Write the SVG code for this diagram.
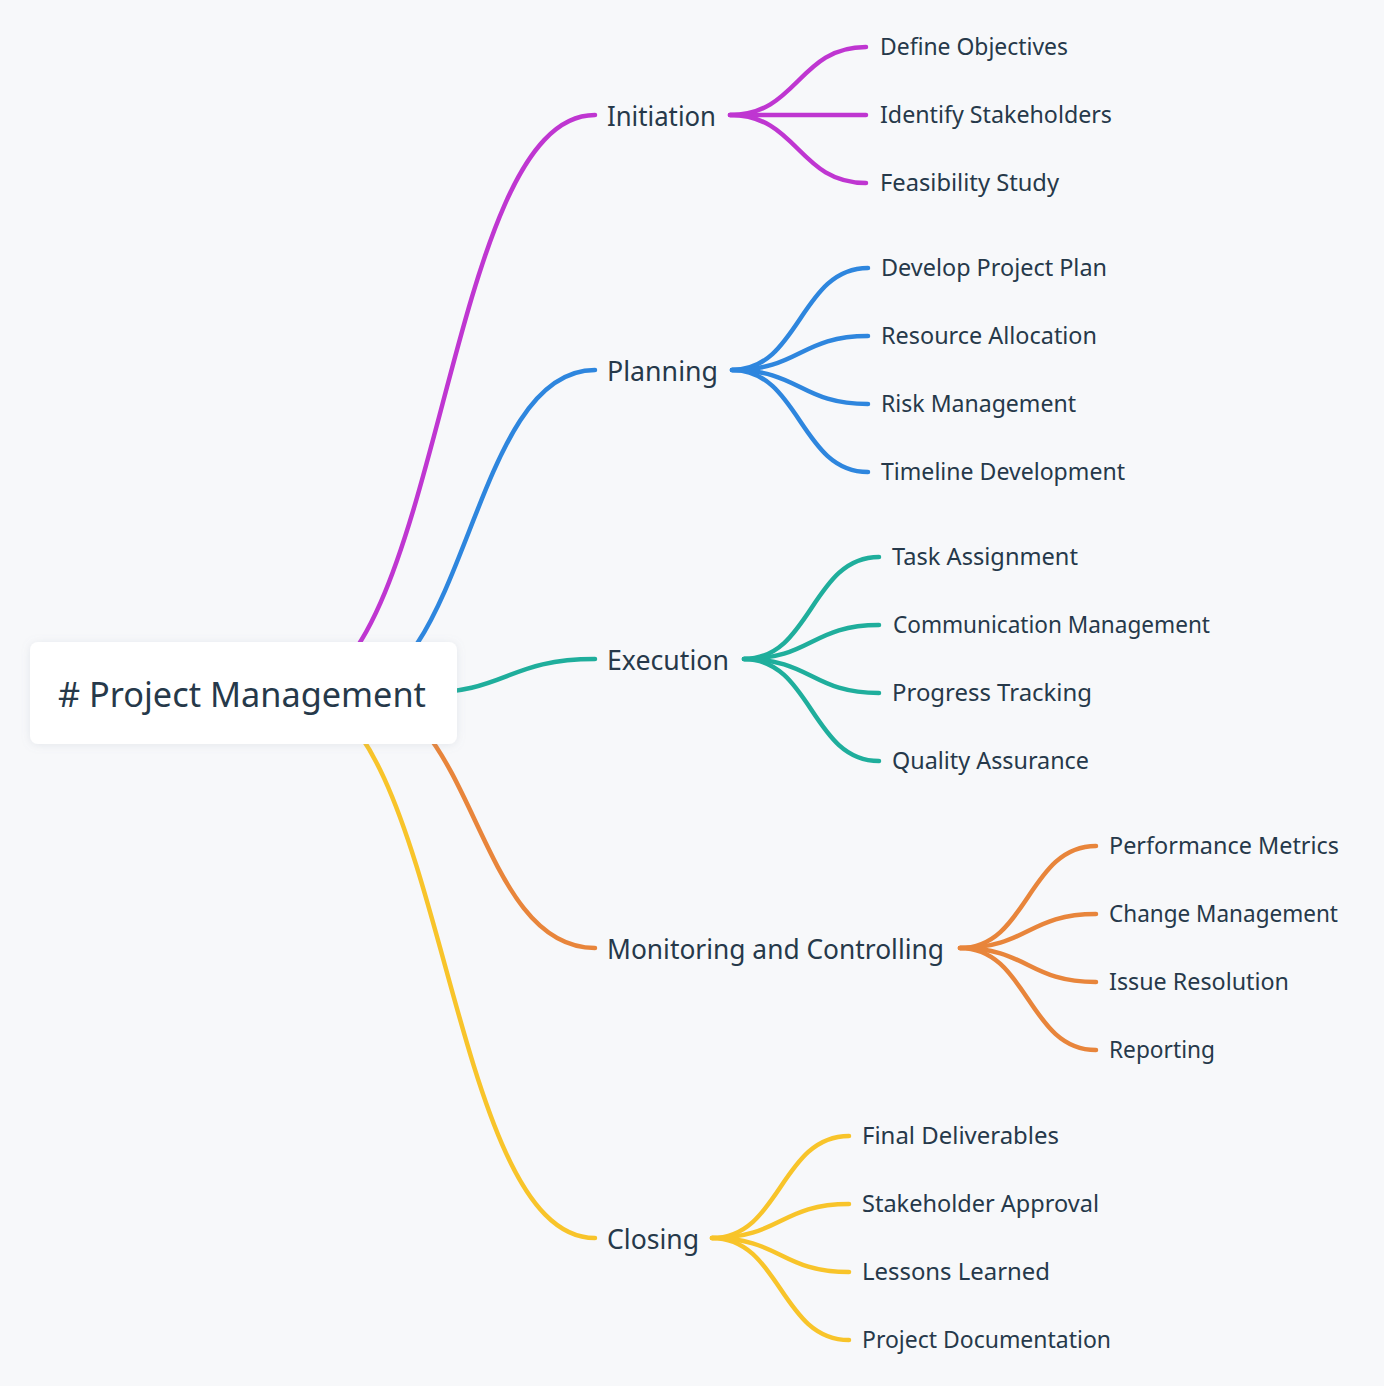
<svg xmlns="http://www.w3.org/2000/svg" width="1384" height="1386" viewBox="0 0 1384 1386">
<defs>
<filter id="sh" x="-10%" y="-30%" width="120%" height="160%">
<feDropShadow dx="0" dy="1" stdDeviation="4" flood-color="#8a97a8" flood-opacity="0.18"/>
</filter>
</defs>
<style>
.l{fill:none;stroke-width:4.5;stroke-linecap:round}
.c1{stroke:#bf36d1}.c2{stroke:#2e86de}.c3{stroke:#1fae9c}.c4{stroke:#e8853b}.c5{stroke:#f8c42a}
text{font-family:"Noto Sans","Open Sans","DejaVu Sans",sans-serif;fill:#26394a}
.r{font-size:34px}.b{font-size:28px}.f{font-size:23px}
</style>
<rect width="1384" height="1386" fill="#f7f8fa"/>
<g id="connectors">
<path class="l c1" d="M290 693C442.5 693 442.5 115 595 115"/>
<path class="l c2" d="M343 693C469 693 469 370 595 370"/>
<path class="l c3" d="M420 693C507 693 507 659 595 659"/>
<path class="l c4" d="M355 693C475 693 475 948 595 948"/>
<path class="l c5" d="M295 693C445 693 445 1238 595 1238"/>
<path class="l c1" d="M730 115C798 115 798 47 866 47"/>
<path class="l c1" d="M730 115L866 115"/>
<path class="l c1" d="M730 115C798 115 798 183 866 183"/>
<path class="l c2" d="M732 370C800 370 800 268 868 268"/>
<path class="l c2" d="M732 370C800 370 800 336 868 336"/>
<path class="l c2" d="M732 370C800 370 800 404 868 404"/>
<path class="l c2" d="M732 370C800 370 800 472 868 472"/>
<path class="l c3" d="M744 659C811.5 659 811.5 557 879 557"/>
<path class="l c3" d="M744 659C811.5 659 811.5 625 879 625"/>
<path class="l c3" d="M744 659C811.5 659 811.5 693 879 693"/>
<path class="l c3" d="M744 659C811.5 659 811.5 761 879 761"/>
<path class="l c4" d="M960 948C1028 948 1028 846 1096 846"/>
<path class="l c4" d="M960 948C1028 948 1028 914 1096 914"/>
<path class="l c4" d="M960 948C1028 948 1028 982 1096 982"/>
<path class="l c4" d="M960 948C1028 948 1028 1050 1096 1050"/>
<path class="l c5" d="M712 1238C780.5 1238 780.5 1136 849 1136"/>
<path class="l c5" d="M712 1238C780.5 1238 780.5 1204 849 1204"/>
<path class="l c5" d="M712 1238C780.5 1238 780.5 1272 849 1272"/>
<path class="l c5" d="M712 1238C780.5 1238 780.5 1340 849 1340"/>
</g>
<g id="node-root">
<rect x="30" y="642" width="427" height="102" rx="8" fill="#ffffff" filter="url(#sh)"/>
<text class="r" x="58" y="707" textLength="368" lengthAdjust="spacingAndGlyphs"># Project Management</text>
</g>
<g id="node-initiation"><text class="b" x="607" y="125.5" textLength="109" lengthAdjust="spacingAndGlyphs">Initiation</text></g>
<g id="node-planning"><text class="b" x="607" y="380.5" textLength="111" lengthAdjust="spacingAndGlyphs">Planning</text></g>
<g id="node-execution"><text class="b" x="607" y="669.5" textLength="122" lengthAdjust="spacingAndGlyphs">Execution</text></g>
<g id="node-monitoring"><text class="b" x="607" y="958.5" textLength="337" lengthAdjust="spacingAndGlyphs">Monitoring and Controlling</text></g>
<g id="node-closing"><text class="b" x="607" y="1248.5" textLength="92" lengthAdjust="spacingAndGlyphs">Closing</text></g>
<g id="node-define-objectives"><text class="f" x="880" y="55.3" textLength="188" lengthAdjust="spacingAndGlyphs">Define Objectives</text></g>
<g id="node-identify-stakeholders"><text class="f" x="880" y="123.3" textLength="232" lengthAdjust="spacingAndGlyphs">Identify Stakeholders</text></g>
<g id="node-feasibility-study"><text class="f" x="880" y="191.3" textLength="179" lengthAdjust="spacingAndGlyphs">Feasibility Study</text></g>
<g id="node-develop-project-plan"><text class="f" x="881" y="276.3" textLength="226" lengthAdjust="spacingAndGlyphs">Develop Project Plan</text></g>
<g id="node-resource-allocation"><text class="f" x="881" y="344.3" textLength="216" lengthAdjust="spacingAndGlyphs">Resource Allocation</text></g>
<g id="node-risk-management"><text class="f" x="881" y="412.3" textLength="195" lengthAdjust="spacingAndGlyphs">Risk Management</text></g>
<g id="node-timeline-development"><text class="f" x="881" y="480.3" textLength="244" lengthAdjust="spacingAndGlyphs">Timeline Development</text></g>
<g id="node-task-assignment"><text class="f" x="892" y="565.3" textLength="186" lengthAdjust="spacingAndGlyphs">Task Assignment</text></g>
<g id="node-communication-management"><text class="f" x="893" y="633.3" textLength="317" lengthAdjust="spacingAndGlyphs">Communication Management</text></g>
<g id="node-progress-tracking"><text class="f" x="892" y="701.3" textLength="200" lengthAdjust="spacingAndGlyphs">Progress Tracking</text></g>
<g id="node-quality-assurance"><text class="f" x="892" y="769.3" textLength="197" lengthAdjust="spacingAndGlyphs">Quality Assurance</text></g>
<g id="node-performance-metrics"><text class="f" x="1109" y="854.3" textLength="230" lengthAdjust="spacingAndGlyphs">Performance Metrics</text></g>
<g id="node-change-management"><text class="f" x="1109" y="922.3" textLength="229" lengthAdjust="spacingAndGlyphs">Change Management</text></g>
<g id="node-issue-resolution"><text class="f" x="1109" y="990.3" textLength="180" lengthAdjust="spacingAndGlyphs">Issue Resolution</text></g>
<g id="node-reporting"><text class="f" x="1109" y="1058.3" textLength="106" lengthAdjust="spacingAndGlyphs">Reporting</text></g>
<g id="node-final-deliverables"><text class="f" x="862" y="1144.3" textLength="197" lengthAdjust="spacingAndGlyphs">Final Deliverables</text></g>
<g id="node-stakeholder-approval"><text class="f" x="862" y="1212.3" textLength="237" lengthAdjust="spacingAndGlyphs">Stakeholder Approval</text></g>
<g id="node-lessons-learned"><text class="f" x="862" y="1280.3" textLength="188" lengthAdjust="spacingAndGlyphs">Lessons Learned</text></g>
<g id="node-project-documentation"><text class="f" x="862" y="1348.3" textLength="249" lengthAdjust="spacingAndGlyphs">Project Documentation</text></g>
</svg>
